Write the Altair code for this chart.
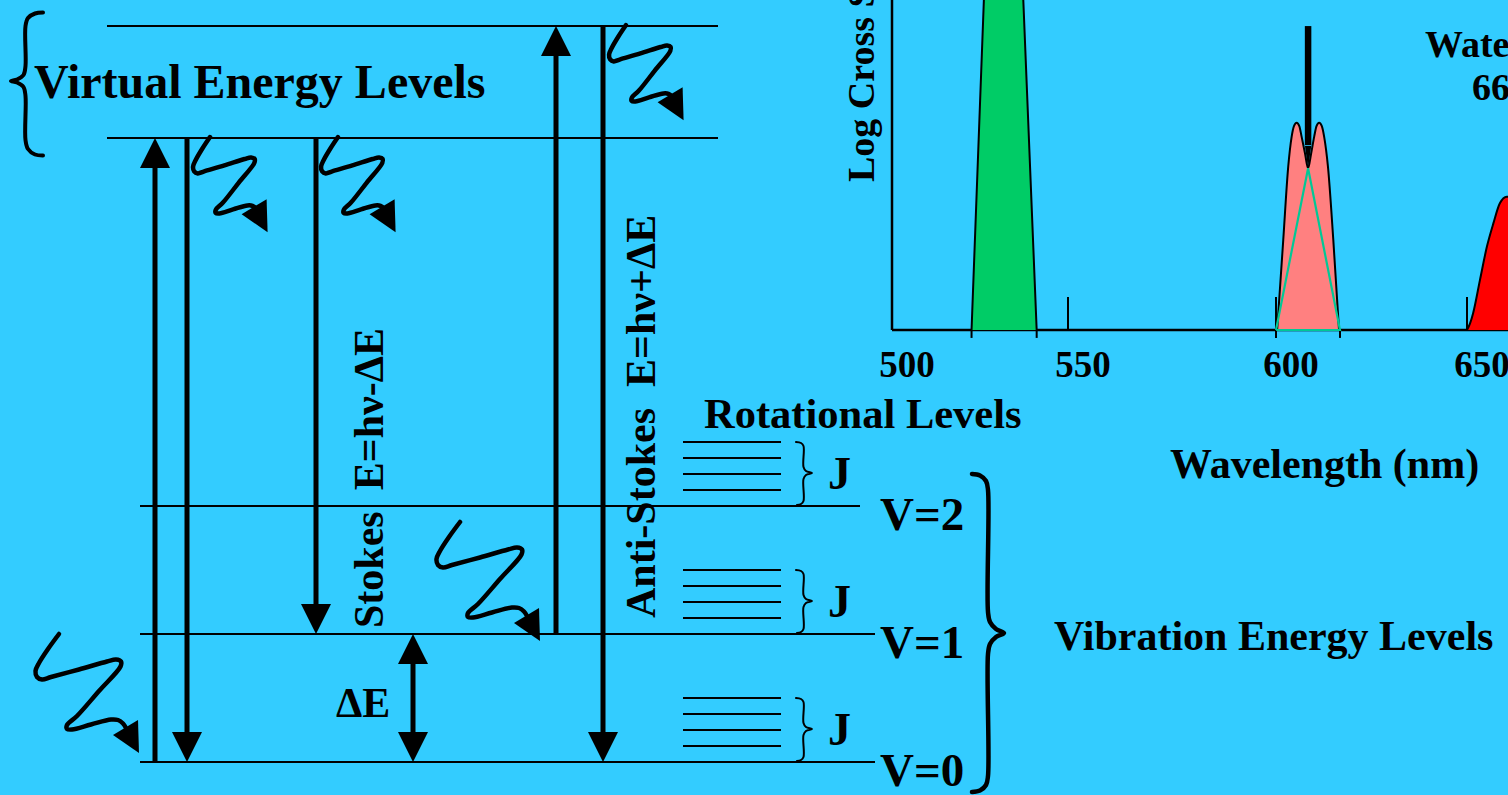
import altair as alt
import pandas as pd

W, H = 1508, 795
BG = "#33CCFF"
FONT = "Liberation Serif"

# ---------------- energy-level diagram (diagram units, y grows downward) ----------------
LEVEL_NAME = ["virtual upper", "virtual lower", "V=2", "V=1", "V=0"]
LEVEL_Y = [26, 138, 506, 634, 762]
LEVEL_X_START = [107, 107, 140, 140, 140]
LEVEL_X_END = [718, 718, 860, 875, 875]

VIB_LABEL = ["V=2", "V=1", "V=0"]
VIB_Y = [506, 634, 762]

ROT_OFFSET = [64, 48, 32, 16]          # rotational sub-levels above each vibrational level
ROT_X_START, ROT_X_END = 683, 781

# transitions: x position, tail level, tip level
ARROW_X = [155, 187, 316, 556, 603, 413, 413]
ARROW_TAIL = [762, 138, 138, 634, 26, 698, 698]
ARROW_TIP = [138, 762, 634, 26, 762, 634, 762]

# wavy photon arrows: template path and instances
WAVE_TX = [0, -11, -20, -23.5, -22, -17, -8, 20, 48, 57, 62, 61.5, 40, 18, 8, 8, 13, 32, 52, 59, 64, 67]
WAVE_TY = [0, 15, 29, 37, 43, 45.5, 43, 35.5, 27.5, 25.5, 27.5, 32.5, 57, 82, 91, 95, 95.5, 90.5, 85.5, 86, 89.5, 94]
WAVE_TIP = (80, 119)
WAVE_ORIGIN_X = [626, 210, 338, 59, 460]
WAVE_ORIGIN_Y = [25, 137, 137, 634, 522]
WAVE_SX = [0.72, 0.72, 0.72, 1.0, 1.0]
WAVE_SY = [0.8, 0.8, 0.8, 1.0, 1.0]

# braces
BRACE_LEFT_X = [43, 35, 28, 25.5, 25.5, 23.5, 17, 11, 17, 23.5, 25.5, 25.5, 28, 35, 43]
BRACE_LEFT_Y = [12.5, 13.5, 18, 26, 66, 75, 79.5, 81, 82.5, 87, 96, 140, 149, 154.5, 155.5]
BRACE_RIGHT_X = [972, 980, 986, 988, 988, 990, 996, 1004, 996, 990, 988, 988, 986, 980, 972]
BRACE_RIGHT_Y = [474, 475.5, 481, 490, 612, 622, 629, 633, 637, 644, 654, 776, 785, 790.5, 792]
J_BRACE_X = [796, 801, 803.5, 803.5, 806, 812, 806, 803.5, 803.5, 801, 797]
J_BRACE_DY = [-64, -63, -60, -39, -35, -33, -31, -27, -5, -2, -1]

# free text (\u2002 = en space, kept by SVG where double spaces would collapse)
TEXT = ["Virtual Energy Levels", "Stokes\u2002E=hν-ΔE", "Anti-Stokes\u2002E=hν+ΔE", "ΔE",
        "Rotational Levels", "Vibration Energy Levels", "Wavelength (nm)",
        "Log Cross Section", "Water Raman", "660 nm"]
TEXT_X = [34, 383, 655, 336, 704, 1054, 1170, 874, 1425, 1472]
TEXT_Y = [98, 628, 618, 717, 428, 650, 478, 182, 57, 100]
TEXT_SIZE = [48, 42, 42, 42, 42.5, 42, 42, 38, 38, 38]
TEXT_ANGLE = [0, 270, 270, 0, 0, 0, 0, 270, 0, 0]

# ---------------- spectrum inset (wavelength nm vs log cross section) ----------------
TICK_NM = [500, 550, 600, 650]
TICK_LABEL = ["500", "550", "600", "650"]
TICK_PX = [892, 1068, 1276, 1467]
MAJOR_TICK_NM = [550, 600, 650]
EDGE_TICK_NM = [522.6, 541.1, 600, 616.75]

GREEN_NM = [522.6, 526.1, 527.0, 528.5, 531.8, 535.1, 536.6, 537.3, 541.1]
GREEN_CS = [0, 100, 125, 145, 155, 145, 125, 100, 0]

PINK_NM = [600.3, 601.9, 603.2, 604.1, 604.7, 605.4, 606.1, 606.7, 607.6, 608.4, 609.2,
           610.0, 610.6, 611.3, 612.0, 612.6, 613.6, 615.0, 616.5]
PINK_CS = [0, 27.3, 49.5, 58.6, 61.8, 62.8, 61.8, 58.6, 53.5, 49.0, 53.5,
           58.6, 61.8, 62.8, 61.8, 58.6, 49.5, 27.3, 0]

TRI_NM = [600.0, 608.4, 616.75, 600.0]
TRI_CS = [0, 49.0, 0, 0]

RED_NM = [650.0, 650.8, 651.6, 653.4, 655.2, 656.9, 658.6, 660.4, 662.0, 664.0, 666.0]
RED_CS = [0, 2.0, 5.1, 15.2, 25.2, 32.3, 38.4, 40.4, 39.5, 36.0, 30.0]

RAMAN_ARROW_NM = 608.4
RAMAN_ARROW_CS = (92.1, 56.0, 49.0)   # top, shaft end, tip

# ---------------- scales ----------------
def PX(field):
    return alt.X(field, type="quantitative",
                 scale=alt.Scale(domain=[0, W], range=[0, W], nice=False, zero=False), axis=None)

def PY(field):
    return alt.Y(field, type="quantitative",
                 scale=alt.Scale(domain=[0, H], range=[0, H], nice=False, zero=False), axis=None)

def NX(field):
    return alt.X(field, type="quantitative",
                 scale=alt.Scale(domain=TICK_NM, range=TICK_PX, nice=False, zero=False), axis=None)

def NY(field):
    return alt.Y(field, type="quantitative",
                 scale=alt.Scale(domain=[0, 100], range=[330, 0], nice=False, zero=False), axis=None)

DOWN_HEAD = "M0,0L-0.5,-1L0.5,-1Z"
UP_HEAD = "M0,0L-0.5,1L0.5,1Z"
WAVE_HEAD = "M0,0L-0.788,-0.545L-0.03,-1Z"
THIN_HEAD = "M0,0L-0.14,-1L0.14,-1Z"

layers = []

# ---- inset axes and ticks
ax_df = pd.DataFrame({"x": [500, 500], "x2": [500, 700], "y": [0, 0], "y2": [100, 0]})
layers.append(alt.Chart(ax_df).mark_rule(color="black", strokeWidth=2.5).encode(
    x=NX("x"), x2="x2", y=NY("y"), y2="y2"))
tk_df = pd.DataFrame({
    "x": MAJOR_TICK_NM + EDGE_TICK_NM,
    "y": [0] * len(MAJOR_TICK_NM) + [-2.4] * len(EDGE_TICK_NM),
    "y2": [10] * len(MAJOR_TICK_NM) + [0] * len(EDGE_TICK_NM),
})
layers.append(alt.Chart(tk_df).mark_rule(color="black", strokeWidth=2).encode(
    x=NX("x"), y=NY("y"), y2="y2"))

# ---- peaks
def peak(nm, cs, fill, interp):
    df = pd.DataFrame({"x": nm, "y": cs, "b": [0] * len(nm)})
    area = alt.Chart(df).mark_area(color=fill, opacity=1, interpolate=interp, clip=True).encode(
        x=NX("x"), y=NY("y"), y2="b")
    line = alt.Chart(df).mark_line(color="black", strokeWidth=2, interpolate=interp, clip=True).encode(
        x=NX("x"), y=NY("y"))
    return [area, line]

layers += peak(GREEN_NM, GREEN_CS, "#00CC66", "linear")
layers += peak(PINK_NM, PINK_CS, "#FF8080", "monotone")
layers += peak(RED_NM, RED_CS, "#FF0000", "monotone")

tri_df = pd.DataFrame({"x": TRI_NM, "y": TRI_CS, "i": list(range(len(TRI_NM)))})
layers.append(alt.Chart(tri_df).mark_line(color="#00C896", strokeWidth=2.2).encode(
    x=NX("x"), y=NY("y"), order="i:Q"))

ra_df = pd.DataFrame({"x": [RAMAN_ARROW_NM], "y": [RAMAN_ARROW_CS[0]], "y2": [RAMAN_ARROW_CS[1]],
                      "tip": [RAMAN_ARROW_CS[2]]})
layers.append(alt.Chart(ra_df).mark_rule(color="black", strokeWidth=6.5).encode(
    x=NX("x"), y=NY("y"), y2="y2"))
layers.append(alt.Chart(ra_df).mark_point(shape=THIN_HEAD, size=2000, filled=True, color="black",
                                          opacity=1, strokeWidth=0).encode(x=NX("x"), y=NY("tip")))

tl_df = pd.DataFrame({"x": TICK_NM, "t": TICK_LABEL})
layers.append(alt.Chart(tl_df).mark_text(font=FONT, fontWeight="bold", fontSize=37, color="black",
                                         align="center", baseline="alphabetic", dx=15).encode(
    x=NX("x"), y=alt.value(377), text="t:N"))

# ---- energy levels
lv_df = pd.DataFrame({"x": LEVEL_X_START, "x2": LEVEL_X_END, "y": LEVEL_Y, "name": LEVEL_NAME})
layers.append(alt.Chart(lv_df).mark_rule(color="black", strokeWidth=2).encode(
    x=PX("x"), x2="x2", y=PY("y")))

rot_rows = [{"x": ROT_X_START, "x2": ROT_X_END, "y": v - o} for v in VIB_Y for o in ROT_OFFSET]
layers.append(alt.Chart(pd.DataFrame(rot_rows)).mark_rule(color="black", strokeWidth=2).encode(
    x=PX("x"), x2="x2", y=PY("y")))

# ---- straight arrows
ar_rows, hd_rows = [], []
for x, tail, tip in zip(ARROW_X, ARROW_TAIL, ARROW_TIP):
    d = 1 if tip > tail else -1
    ar_rows.append({"x": x, "y": tail, "y2": tip - d * 24})
    hd_rows.append({"x": x, "y": tip, "d": d})
layers.append(alt.Chart(pd.DataFrame(ar_rows)).mark_rule(color="black", strokeWidth=5, strokeCap="butt").encode(
    x=PX("x"), y=PY("y"), y2="y2"))
hd_df = pd.DataFrame(hd_rows)
for d, shp in [(1, DOWN_HEAD), (-1, UP_HEAD)]:
    layers.append(alt.Chart(hd_df[hd_df["d"] == d]).mark_point(
        shape=shp, size=3600, filled=True, color="black", opacity=1, strokeWidth=0).encode(
        x=PX("x"), y=PY("y")))

# ---- wavy photons
wv_rows, wh_rows = [], []
for k, (ox, oy, sx, sy) in enumerate(zip(WAVE_ORIGIN_X, WAVE_ORIGIN_Y, WAVE_SX, WAVE_SY)):
    for i, (tx, ty) in enumerate(zip(WAVE_TX, WAVE_TY)):
        wv_rows.append({"w": k, "i": i, "x": ox + sx * tx, "y": oy + sy * ty})
    wh_rows.append({"x": ox + sx * WAVE_TIP[0], "y": oy + sy * WAVE_TIP[1]})
layers.append(alt.Chart(pd.DataFrame(wv_rows)).mark_line(
    color="black", strokeWidth=4.5, interpolate="catmull-rom", strokeCap="round", strokeJoin="round").encode(
    x=PX("x"), y=PY("y"), detail="w:N", order="i:Q"))
layers.append(alt.Chart(pd.DataFrame(wh_rows)).mark_point(
    shape=WAVE_HEAD, size=4356, filled=True, color="black", opacity=1, strokeWidth=0).encode(
    x=PX("x"), y=PY("y")))

# ---- braces
br_rows = []
for i, (x, y) in enumerate(zip(BRACE_LEFT_X, BRACE_LEFT_Y)):
    br_rows.append({"b": "left", "i": i, "x": x, "y": y, "sw": 4})
for i, (x, y) in enumerate(zip(BRACE_RIGHT_X, BRACE_RIGHT_Y)):
    br_rows.append({"b": "right", "i": i, "x": x, "y": y, "sw": 4.5})
for v in VIB_Y:
    for i, (x, dy) in enumerate(zip(J_BRACE_X, J_BRACE_DY)):
        br_rows.append({"b": f"J{v}", "i": i, "x": x, "y": v + dy, "sw": 2})
layers.append(alt.Chart(pd.DataFrame(br_rows)).mark_line(
    color="black", interpolate="catmull-rom", strokeCap="round", strokeJoin="round").encode(
    x=PX("x"), y=PY("y"), detail="b:N", order="i:Q", strokeWidth=alt.StrokeWidth("sw:Q", scale=None)))

# ---- text
tx_df = pd.DataFrame({"t": TEXT, "x": TEXT_X, "y": TEXT_Y, "s": TEXT_SIZE, "a": TEXT_ANGLE})
tx_df = pd.concat([
    tx_df,
    pd.DataFrame({"t": ["J"] * 3, "x": [828] * 3, "y": [v - 17 for v in VIB_Y], "s": [46] * 3, "a": [0] * 3}),
    pd.DataFrame({"t": VIB_LABEL, "x": [880] * 3, "y": [v + 24 for v in VIB_Y], "s": [47] * 3, "a": [0] * 3}),
], ignore_index=True)
layers.append(alt.Chart(tx_df).mark_text(font=FONT, fontWeight="bold", color="black",
                                         align="left", baseline="alphabetic").encode(
    x=PX("x"), y=PY("y"), text="t:N",
    size=alt.Size("s:Q", scale=None), angle=alt.Angle("a:Q", scale=None)))

chart = alt.layer(*layers).resolve_scale(x="independent", y="independent").properties(
    width=W, height=H, background=BG, padding=0, autosize="none"
).configure_view(stroke=None)

chart.save("out.html", embed_options={"renderer": "svg", "actions": False})
